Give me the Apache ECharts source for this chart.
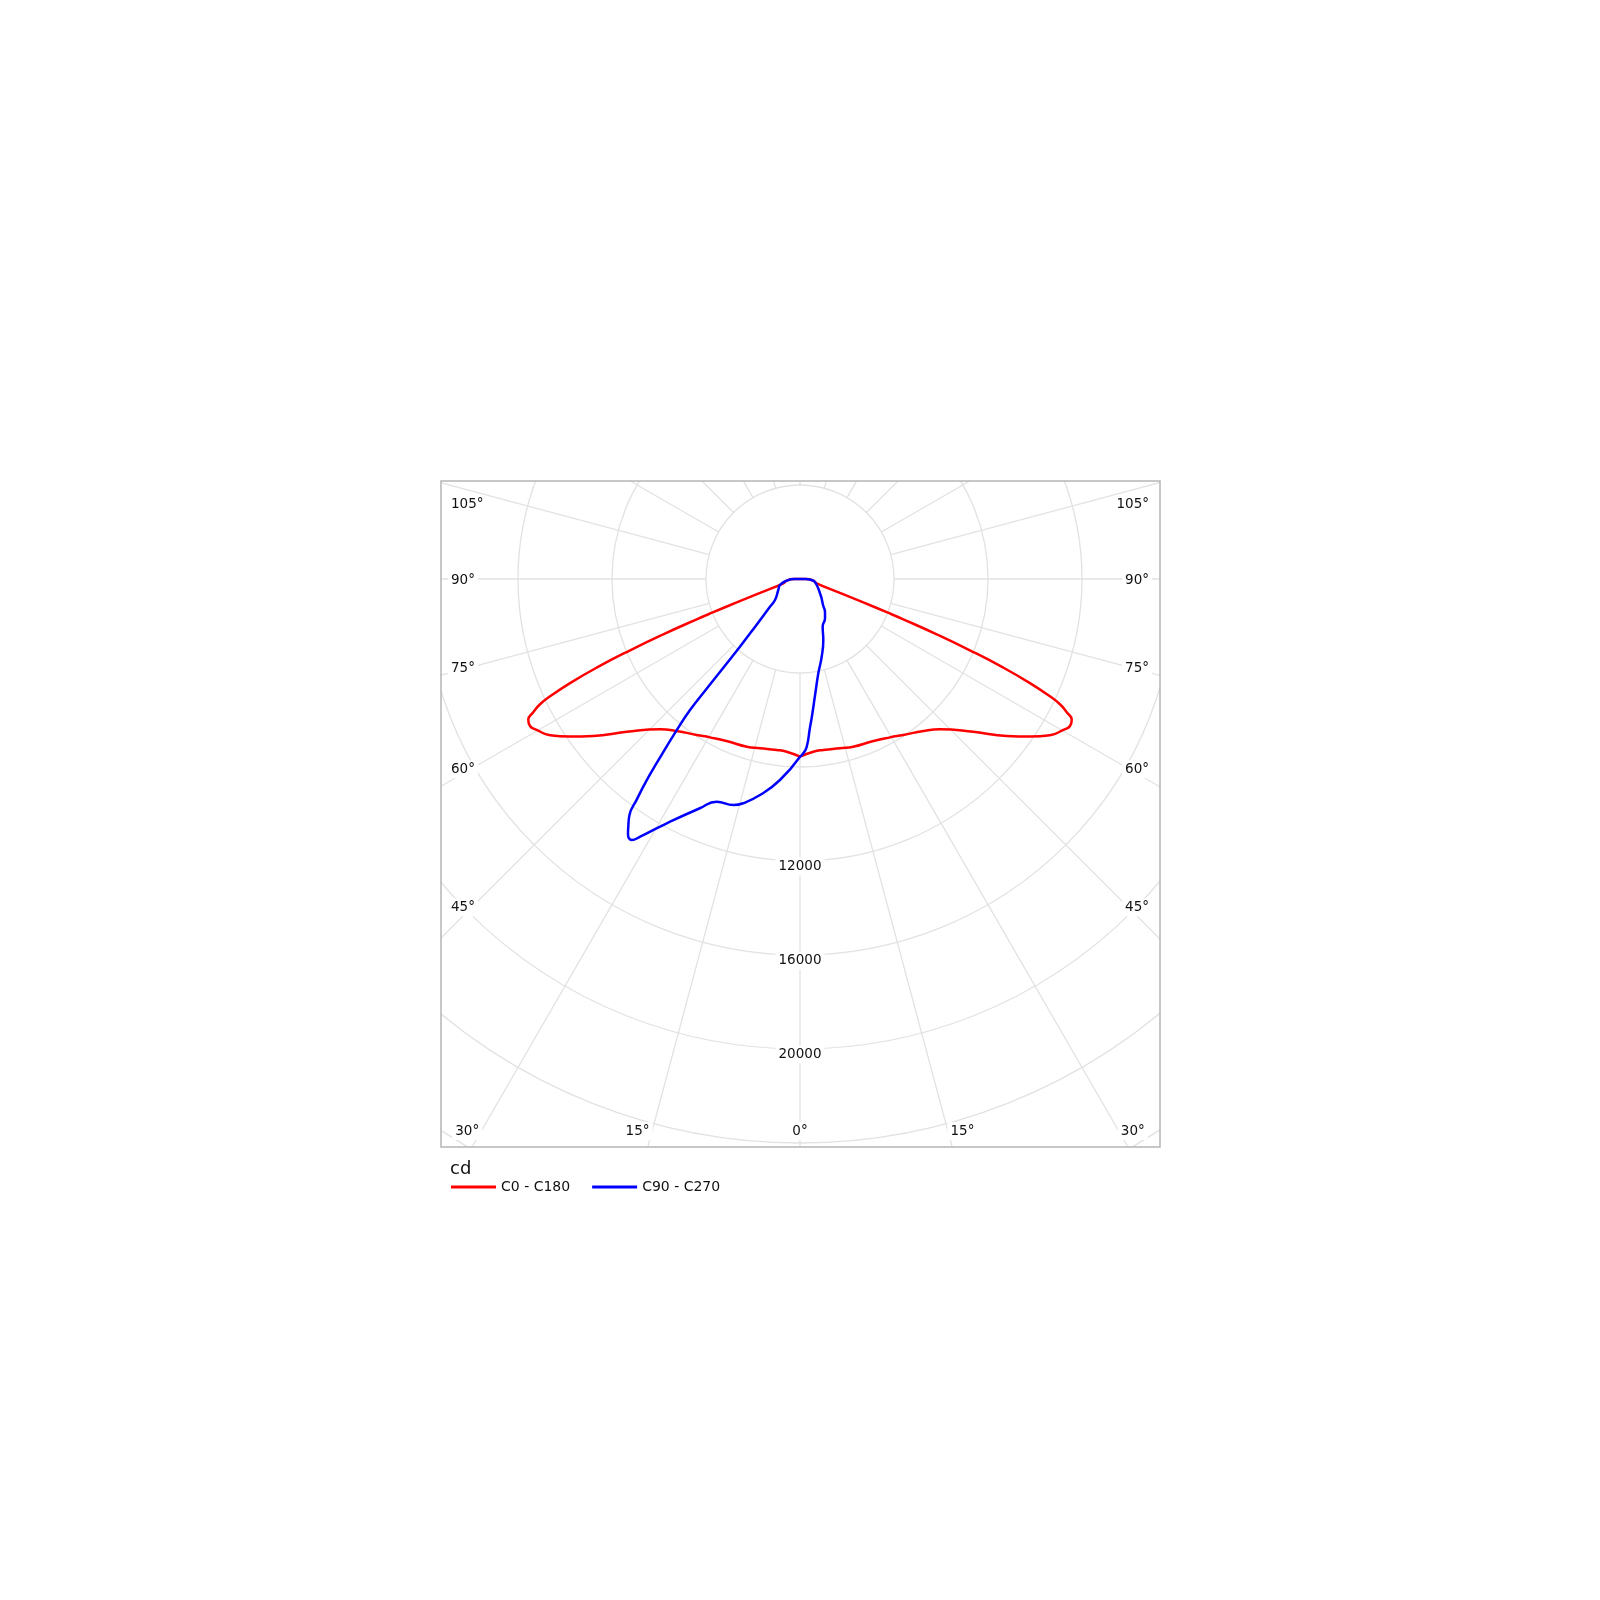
<!DOCTYPE html>
<html><head><meta charset="utf-8">
<script src="https://cdn.jsdelivr.net/npm/echarts@6/dist/echarts.min.js"></script>
<style>html,body{margin:0;padding:0;background:#fff}#c{width:1600px;height:1600px}</style>
</head><body><div id="c"></div>
<script>
// ---------------- DATA ----------------
const seriesNames = ['C0 - C180', 'C90 - C270'];
const unitLabel = 'cd';
// [gamma (deg from nadir), intensity cd]
const redC180 = [[0,7560],[4.4,7370],[7.8,7340],[13.3,7400],[17.6,7490],[24.4,7570],[29.6,7750],[33.5,7960],[39.1,8330],[43,8740],[48.6,9830],[52.8,11050],[55.6,11870],[58,12540],[60.2,12920],[61.4,13080],[62.6,13025],[63.45,12690],[64.27,12280],[64.85,11750],[65.65,10740],[66.45,9440],[67.24,7840],[67.97,6275],[68.68,4720],[69.04,3950],[69.71,2870],[70.84,1800],[75.6,730],[83,571],[90,250],[180,0]];
const redC0 = [[0,7560],[4.4,7370],[7.8,7340],[13.3,7400],[17.6,7490],[24.4,7570],[29.6,7750],[33.5,7960],[39.1,8330],[43,8740],[48.6,9830],[52.8,11050],[55.6,11870],[58,12540],[60.2,12920],[61.4,13080],[62.6,13025],[63.45,12690],[64.27,12280],[64.85,11750],[65.65,10740],[66.45,9440],[67.24,7840],[67.97,6275],[68.68,4720],[69.04,3950],[69.71,2870],[70.84,1800],[75.6,730],[83,571],[90,250],[180,0]];
const blueC270 = [[0,7560],[5.7,8595],[10.5,9350],[14.2,9845],[16.4,10030],[20.5,10120],[23.6,10645],[28.6,11840],[31.8,12900],[32.8,13210],[34,13090],[34.8,12800],[35.85,12390],[36.5,11690],[37.3,10760],[37.9,9935],[39.2,8300],[40,7280],[40.4,6130],[41.6,3850],[43.2,2800],[47.3,1740],[50,1390],[63.1,1035],[73.3,890],[82.7,571],[90,250],[180,0]];
const blueC90 = [[0,7560],[1.1,7418],[2.3,7142],[3.8,6355],[5,5850],[7.4,4980],[11,4088],[15.6,3433],[20.9,2779],[25.4,2248],[32.5,1982],[37.1,1762],[41.5,1477],[48.5,1221],[54.4,1046],[70.2,755],[82.7,571],[90,250],[180,0]];
const sideAngleLabels = [105, 90, 75, 60, 45];
const bottomAngleLabels = [30, 15];
const centerAngleLabel = 0;
const radiusLabels = [12000, 16000, 20000];

// ---------------- LAYOUT ----------------
const CX = 800, CY = 579, PX_STEP = 94, STEP = 4000, RINGS = 8;
const BOX = {x: 441, y: 481, w: 719, h: 666};
const FONT = '"DejaVu Sans", "Noto Sans", sans-serif';
const GRID = '#e2e2e2';

function loop(left, right) {
  const out = left.map(([g, v]) => [v, g]);
  const r = right.slice().reverse();
  r.forEach(([g, v], i) => { if (i === 0 && g === 180) return; out.push([v, 360 - g]); });
  return out;
}

const chart = echarts.init(document.getElementById('c'), null, {renderer: 'canvas'});
const deg = Math.PI / 180;
const texts = [];
function label(text, x, y, align) {
  texts.push({type: 'text', z: 60, style: {text: text, x: x, y: y + 1.5, align: align, verticalAlign: 'middle',
    font: '13.5px ' + FONT, fill: '#111', backgroundColor: '#fff', padding: [2, 3]}});
}
// side labels
const xl = BOX.x + 32;
sideAngleLabels.forEach(g => {
  let y = CY + (CX - xl) / Math.tan(g * deg);
  if (Math.abs(g - 90) < 1e-6) y = CY;
  y = Math.max(y, BOX.y + 22);
  label(g + '°', BOX.x + 7, y, 'left');
  label(g + '°', BOX.x + BOX.w - 8, y, 'right');
});
const yb = BOX.y + BOX.h - 17.5;
bottomAngleLabels.forEach(g => {
  const dx = (yb - CY) * Math.tan(g * deg);
  label(g + '°', CX - dx, yb, 'right');
  label(g + '°', CX + dx, yb, 'left');
});
label(centerAngleLabel + '°', CX, yb, 'center');
radiusLabels.forEach(v => label(String(v), CX, CY + v / STEP * PX_STEP + 4, 'center'));

const W = 1600, H = 1600;
const cover = [
  {x: 0, y: 0, width: W, height: BOX.y},
  {x: 0, y: BOX.y + BOX.h, width: W, height: H - BOX.y - BOX.h},
  {x: 0, y: BOX.y, width: BOX.x, height: BOX.h},
  {x: BOX.x + BOX.w, y: BOX.y, width: W - BOX.x - BOX.w, height: BOX.h}
].map(s => ({type: 'rect', z: 50, shape: s, style: {fill: '#fff'}, silent: true}));

const option = {
  animation: false,
  backgroundColor: '#fff',
  polar: [
    {center: [CX, CY], radius: [PX_STEP, PX_STEP * RINGS]},
    {center: [CX, CY], radius: PX_STEP * RINGS}
  ],
  angleAxis: [
    {polarIndex: 0, type: 'value', min: 0, max: 360, interval: 15, startAngle: 270, clockwise: true,
      axisLine: {show: false}, axisTick: {show: false}, axisLabel: {show: false},
      splitLine: {show: true, lineStyle: {color: GRID, width: 1.3}}},
    {polarIndex: 1, type: 'value', min: 0, max: 360, startAngle: 270, clockwise: true, show: false}
  ],
  radiusAxis: [
    {polarIndex: 0, type: 'value', min: STEP, max: STEP * RINGS, interval: STEP,
      axisLine: {show: false}, axisTick: {show: false}, axisLabel: {show: false},
      splitLine: {show: true, lineStyle: {color: GRID, width: 1.3}}},
    {polarIndex: 1, type: 'value', min: 0, max: STEP * RINGS, show: false}
  ],
  legend: {
    z: 70, left: 446, top: 1175, icon: 'rect', itemWidth: 45, itemHeight: 3, itemGap: 22,
    textStyle: {fontFamily: FONT, fontSize: 14, color: '#111'},
    data: seriesNames
  },
  series: [
    {name: seriesNames[0], type: 'line', coordinateSystem: 'polar', polarIndex: 1, clip: false,
      showSymbol: false, smooth: 0.5, color: '#ff0000', lineStyle: {color: '#ff0000', width: 2.5},
      data: loop(redC180, redC0)},
    {name: seriesNames[1], type: 'line', coordinateSystem: 'polar', polarIndex: 1, clip: false,
      showSymbol: false, smooth: 0.5, color: '#0000ff', lineStyle: {color: '#0000ff', width: 2.5},
      data: loop(blueC270, blueC90)}
  ],
  graphic: cover.concat([
    {type: 'rect', z: 55, shape: {x: BOX.x, y: BOX.y, width: BOX.w, height: BOX.h},
      style: {fill: null, stroke: '#b5b5b5', lineWidth: 1.5}, silent: true},
    {type: 'text', z: 70, style: {text: unitLabel, x: BOX.x + 9, y: 1169, verticalAlign: 'middle',
      font: '18px ' + FONT, fill: '#111'}}
  ]).concat(texts)
};
chart.setOption(option);
</script></body></html>
